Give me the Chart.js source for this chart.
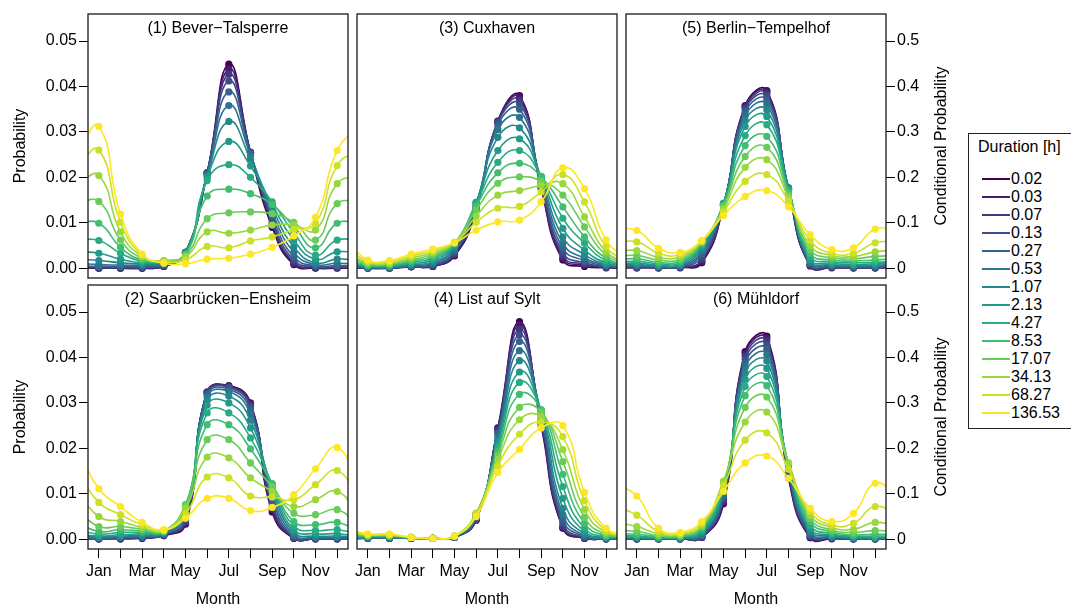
<!DOCTYPE html>
<html>
<head>
<meta charset="utf-8">
<script src="https://cdn.jsdelivr.net/npm/chart.js@4.4.1/dist/chart.umd.min.js"></script>
<style>
  html, body { margin: 0; padding: 0; background: #fff; }
  #wrap { position: relative; width: 1071px; height: 606px; overflow: hidden; font-family: "Liberation Sans", Arial, sans-serif; color: #000; }
  #wrap canvas { position: absolute; }
  #legend { position: absolute; left: 968px; top: 133px; width: 120px; height: 296px; border: 1px solid #222; box-sizing: border-box; }
  #legend .ttl { position: absolute; left: 9px; top: 3px; font-size: 16px; line-height: 19px; white-space: nowrap; }
  #legend .item { position: absolute; left: 13px; height: 18px; font-size: 16px; line-height: 18px; white-space: nowrap; }
  #legend .item span { display: inline-block; width: 28px; height: 2px; vertical-align: middle; margin-right: 1px; position: relative; top: -1px; }
</style>
</head>
<body>
<div id="wrap">
  <div id="legend"></div>
</div>
<script>
const months = ['Jan', 'Feb', 'Mar', 'Apr', 'May', 'Jun', 'Jul', 'Aug', 'Sep', 'Oct', 'Nov', 'Dec'];
const durations = ['0.02', '0.03', '0.07', '0.13', '0.27', '0.53', '1.07', '2.13', '4.27', '8.53', '17.07', '34.13', '68.27', '136.53'];
const probTicks = [0, 0.01, 0.02, 0.03, 0.04, 0.05];

// one row per duration (0.02 h ... 136.53 h), one column per month Jan..Dec
const beverTalsperre = [
  [0.0000, 0.0000, 0.0000, 0.0004, 0.0034, 0.0210, 0.0449, 0.0255, 0.0090, 0.0008, 0.0000, 0.0000],
  [0.0000, 0.0000, 0.0000, 0.0004, 0.0034, 0.0210, 0.0438, 0.0255, 0.0095, 0.0010, 0.0001, 0.0001],
  [0.0001, 0.0001, 0.0001, 0.0005, 0.0035, 0.0210, 0.0427, 0.0255, 0.0100, 0.0013, 0.0002, 0.0002],
  [0.0002, 0.0002, 0.0002, 0.0006, 0.0035, 0.0209, 0.0412, 0.0254, 0.0107, 0.0018, 0.0003, 0.0003],
  [0.0004, 0.0004, 0.0004, 0.0007, 0.0035, 0.0208, 0.0388, 0.0252, 0.0115, 0.0025, 0.0005, 0.0006],
  [0.0008, 0.0007, 0.0006, 0.0009, 0.0035, 0.0206, 0.0358, 0.0248, 0.0124, 0.0035, 0.0008, 0.0011],
  [0.0017, 0.0012, 0.0009, 0.0011, 0.0034, 0.0203, 0.0323, 0.0240, 0.0133, 0.0047, 0.0012, 0.0020],
  [0.0033, 0.0020, 0.0012, 0.0013, 0.0033, 0.0199, 0.0279, 0.0225, 0.0140, 0.0062, 0.0020, 0.0036],
  [0.0061, 0.0033, 0.0015, 0.0015, 0.0032, 0.0193, 0.0228, 0.0200, 0.0146, 0.0078, 0.0029, 0.0062],
  [0.0099, 0.0046, 0.0018, 0.0016, 0.0030, 0.0159, 0.0174, 0.0164, 0.0140, 0.0092, 0.0045, 0.0099],
  [0.0147, 0.0062, 0.0022, 0.0017, 0.0028, 0.0109, 0.0122, 0.0124, 0.0120, 0.0101, 0.0062, 0.0142],
  [0.0204, 0.0080, 0.0026, 0.0016, 0.0025, 0.0080, 0.0077, 0.0084, 0.0095, 0.0095, 0.0084, 0.0186],
  [0.0260, 0.0101, 0.0029, 0.0014, 0.0018, 0.0048, 0.0045, 0.0060, 0.0069, 0.0085, 0.0099, 0.0226],
  [0.0312, 0.0119, 0.0031, 0.0011, 0.0010, 0.0020, 0.0022, 0.0031, 0.0046, 0.0071, 0.0112, 0.0259]
];

const saarbrueckenEnsheim = [
  [0.0001, 0.0001, 0.0002, 0.0008, 0.0033, 0.0324, 0.0338, 0.0300, 0.0060, 0.0002, 0.0001, 0.0001],
  [0.0001, 0.0001, 0.0002, 0.0008, 0.0035, 0.0324, 0.0337, 0.0298, 0.0065, 0.0002, 0.0001, 0.0001],
  [0.0001, 0.0002, 0.0003, 0.0009, 0.0038, 0.0323, 0.0336, 0.0295, 0.0072, 0.0003, 0.0001, 0.0001],
  [0.0001, 0.0003, 0.0004, 0.0010, 0.0042, 0.0321, 0.0334, 0.0290, 0.0080, 0.0004, 0.0002, 0.0002],
  [0.0002, 0.0004, 0.0005, 0.0011, 0.0047, 0.0318, 0.0330, 0.0284, 0.0090, 0.0006, 0.0003, 0.0003],
  [0.0003, 0.0005, 0.0007, 0.0012, 0.0053, 0.0313, 0.0325, 0.0275, 0.0100, 0.0010, 0.0004, 0.0004],
  [0.0005, 0.0007, 0.0009, 0.0013, 0.0060, 0.0306, 0.0315, 0.0262, 0.0110, 0.0015, 0.0007, 0.0007],
  [0.0007, 0.0010, 0.0012, 0.0015, 0.0066, 0.0295, 0.0300, 0.0245, 0.0117, 0.0021, 0.0012, 0.0012],
  [0.0011, 0.0015, 0.0015, 0.0016, 0.0072, 0.0278, 0.0278, 0.0223, 0.0122, 0.0029, 0.0019, 0.0021],
  [0.0017, 0.0021, 0.0018, 0.0017, 0.0076, 0.0252, 0.0252, 0.0199, 0.0122, 0.0039, 0.0032, 0.0037],
  [0.0028, 0.0028, 0.0022, 0.0018, 0.0075, 0.0219, 0.0219, 0.0168, 0.0116, 0.0057, 0.0054, 0.0065],
  [0.0050, 0.0039, 0.0026, 0.0019, 0.0068, 0.0181, 0.0179, 0.0135, 0.0105, 0.0072, 0.0087, 0.0105],
  [0.0081, 0.0054, 0.0032, 0.0020, 0.0056, 0.0137, 0.0135, 0.0095, 0.0093, 0.0087, 0.0120, 0.0151],
  [0.0111, 0.0072, 0.0037, 0.0021, 0.0046, 0.0090, 0.0090, 0.0063, 0.0070, 0.0098, 0.0155, 0.0202]
];

const cuxhaven = [
  [0.0000, 0.0000, 0.0003, 0.0004, 0.0027, 0.0128, 0.0324, 0.0380, 0.0175, 0.0018, 0.0004, 0.0001],
  [0.0000, 0.0000, 0.0003, 0.0004, 0.0029, 0.0131, 0.0323, 0.0376, 0.0178, 0.0022, 0.0007, 0.0002],
  [0.0001, 0.0001, 0.0003, 0.0005, 0.0031, 0.0134, 0.0322, 0.0370, 0.0182, 0.0027, 0.0009, 0.0002],
  [0.0001, 0.0001, 0.0004, 0.0006, 0.0034, 0.0137, 0.0320, 0.0362, 0.0186, 0.0034, 0.0012, 0.0004],
  [0.0001, 0.0001, 0.0005, 0.0008, 0.0038, 0.0140, 0.0315, 0.0350, 0.0190, 0.0044, 0.0017, 0.0005],
  [0.0002, 0.0002, 0.0006, 0.0011, 0.0042, 0.0143, 0.0305, 0.0332, 0.0194, 0.0055, 0.0022, 0.0007],
  [0.0003, 0.0003, 0.0008, 0.0014, 0.0046, 0.0145, 0.0288, 0.0309, 0.0198, 0.0069, 0.0030, 0.0009],
  [0.0004, 0.0004, 0.0010, 0.0018, 0.0050, 0.0145, 0.0259, 0.0285, 0.0201, 0.0088, 0.0040, 0.0012],
  [0.0005, 0.0005, 0.0013, 0.0022, 0.0053, 0.0142, 0.0233, 0.0259, 0.0202, 0.0110, 0.0055, 0.0017],
  [0.0007, 0.0007, 0.0016, 0.0026, 0.0055, 0.0137, 0.0210, 0.0231, 0.0201, 0.0135, 0.0069, 0.0022],
  [0.0009, 0.0009, 0.0019, 0.0030, 0.0056, 0.0128, 0.0187, 0.0201, 0.0192, 0.0161, 0.0091, 0.0029],
  [0.0012, 0.0011, 0.0023, 0.0034, 0.0057, 0.0115, 0.0161, 0.0171, 0.0182, 0.0186, 0.0113, 0.0036],
  [0.0015, 0.0014, 0.0027, 0.0038, 0.0057, 0.0101, 0.0132, 0.0136, 0.0168, 0.0206, 0.0146, 0.0047],
  [0.0018, 0.0017, 0.0031, 0.0042, 0.0056, 0.0084, 0.0102, 0.0106, 0.0146, 0.0221, 0.0175, 0.0062]
];

const listAufSylt = [
  [0.0002, 0.0002, 0.0002, 0.0002, 0.0004, 0.0042, 0.0245, 0.0479, 0.0250, 0.0024, 0.0002, 0.0001],
  [0.0002, 0.0002, 0.0002, 0.0002, 0.0004, 0.0043, 0.0243, 0.0472, 0.0255, 0.0026, 0.0002, 0.0001],
  [0.0002, 0.0002, 0.0002, 0.0002, 0.0004, 0.0044, 0.0240, 0.0462, 0.0260, 0.0029, 0.0003, 0.0001],
  [0.0003, 0.0003, 0.0002, 0.0002, 0.0004, 0.0045, 0.0236, 0.0450, 0.0265, 0.0035, 0.0004, 0.0001],
  [0.0003, 0.0003, 0.0003, 0.0002, 0.0005, 0.0047, 0.0231, 0.0435, 0.0270, 0.0043, 0.0006, 0.0002],
  [0.0004, 0.0004, 0.0003, 0.0002, 0.0005, 0.0049, 0.0225, 0.0415, 0.0275, 0.0054, 0.0008, 0.0002],
  [0.0004, 0.0004, 0.0003, 0.0002, 0.0005, 0.0051, 0.0218, 0.0393, 0.0280, 0.0068, 0.0012, 0.0003],
  [0.0005, 0.0005, 0.0003, 0.0002, 0.0006, 0.0053, 0.0210, 0.0368, 0.0283, 0.0090, 0.0017, 0.0004],
  [0.0006, 0.0006, 0.0004, 0.0002, 0.0006, 0.0055, 0.0202, 0.0345, 0.0285, 0.0116, 0.0024, 0.0006],
  [0.0007, 0.0007, 0.0004, 0.0002, 0.0006, 0.0056, 0.0194, 0.0319, 0.0285, 0.0143, 0.0035, 0.0008],
  [0.0008, 0.0008, 0.0004, 0.0002, 0.0007, 0.0057, 0.0185, 0.0290, 0.0280, 0.0171, 0.0048, 0.0011],
  [0.0009, 0.0009, 0.0004, 0.0002, 0.0007, 0.0057, 0.0175, 0.0263, 0.0270, 0.0197, 0.0065, 0.0015],
  [0.0010, 0.0010, 0.0004, 0.0002, 0.0007, 0.0055, 0.0162, 0.0231, 0.0258, 0.0226, 0.0085, 0.0019],
  [0.0012, 0.0012, 0.0004, 0.0002, 0.0007, 0.0050, 0.0147, 0.0198, 0.0245, 0.0250, 0.0103, 0.0024]
];

const berlinTempelhof = [
  [0.0001, 0.0001, 0.0001, 0.0012, 0.0137, 0.0358, 0.0391, 0.0170, 0.0005, 0.0001, 0.0001, 0.0001],
  [0.0001, 0.0001, 0.0002, 0.0015, 0.0138, 0.0356, 0.0388, 0.0172, 0.0006, 0.0002, 0.0001, 0.0001],
  [0.0002, 0.0001, 0.0002, 0.0019, 0.0139, 0.0353, 0.0384, 0.0174, 0.0007, 0.0002, 0.0001, 0.0001],
  [0.0003, 0.0002, 0.0003, 0.0025, 0.0140, 0.0349, 0.0378, 0.0176, 0.0008, 0.0003, 0.0002, 0.0002],
  [0.0004, 0.0003, 0.0004, 0.0031, 0.0141, 0.0343, 0.0370, 0.0177, 0.0010, 0.0004, 0.0003, 0.0003],
  [0.0006, 0.0004, 0.0005, 0.0037, 0.0142, 0.0335, 0.0360, 0.0177, 0.0013, 0.0006, 0.0004, 0.0005],
  [0.0008, 0.0005, 0.0007, 0.0043, 0.0143, 0.0325, 0.0348, 0.0176, 0.0016, 0.0008, 0.0006, 0.0007],
  [0.0011, 0.0007, 0.0009, 0.0048, 0.0143, 0.0312, 0.0334, 0.0174, 0.0020, 0.0011, 0.0008, 0.0010],
  [0.0015, 0.0010, 0.0012, 0.0052, 0.0142, 0.0292, 0.0316, 0.0171, 0.0026, 0.0014, 0.0012, 0.0013],
  [0.0021, 0.0013, 0.0016, 0.0055, 0.0139, 0.0270, 0.0290, 0.0167, 0.0033, 0.0018, 0.0016, 0.0018],
  [0.0028, 0.0018, 0.0020, 0.0057, 0.0135, 0.0246, 0.0266, 0.0161, 0.0041, 0.0023, 0.0021, 0.0026],
  [0.0039, 0.0024, 0.0025, 0.0059, 0.0130, 0.0222, 0.0239, 0.0155, 0.0050, 0.0028, 0.0026, 0.0036],
  [0.0058, 0.0033, 0.0030, 0.0060, 0.0124, 0.0191, 0.0206, 0.0148, 0.0061, 0.0033, 0.0033, 0.0056],
  [0.0083, 0.0044, 0.0035, 0.0061, 0.0116, 0.0158, 0.0171, 0.0135, 0.0074, 0.0041, 0.0045, 0.0086]
];

const muehldorf = [
  [0.0001, 0.0001, 0.0001, 0.0004, 0.0078, 0.0413, 0.0447, 0.0135, 0.0003, 0.0001, 0.0001, 0.0001],
  [0.0001, 0.0001, 0.0001, 0.0004, 0.0082, 0.0409, 0.0442, 0.0138, 0.0004, 0.0002, 0.0001, 0.0001],
  [0.0001, 0.0001, 0.0001, 0.0005, 0.0086, 0.0403, 0.0436, 0.0142, 0.0006, 0.0002, 0.0001, 0.0001],
  [0.0001, 0.0001, 0.0001, 0.0006, 0.0090, 0.0396, 0.0428, 0.0146, 0.0008, 0.0003, 0.0001, 0.0001],
  [0.0002, 0.0001, 0.0002, 0.0008, 0.0095, 0.0388, 0.0418, 0.0150, 0.0011, 0.0004, 0.0002, 0.0001],
  [0.0002, 0.0002, 0.0002, 0.0010, 0.0100, 0.0378, 0.0406, 0.0154, 0.0015, 0.0005, 0.0002, 0.0002],
  [0.0003, 0.0002, 0.0003, 0.0013, 0.0105, 0.0366, 0.0392, 0.0158, 0.0019, 0.0007, 0.0003, 0.0003],
  [0.0005, 0.0003, 0.0004, 0.0017, 0.0110, 0.0352, 0.0376, 0.0162, 0.0024, 0.0009, 0.0005, 0.0004],
  [0.0007, 0.0004, 0.0005, 0.0020, 0.0115, 0.0336, 0.0358, 0.0165, 0.0031, 0.0012, 0.0007, 0.0007],
  [0.0011, 0.0006, 0.0006, 0.0024, 0.0120, 0.0316, 0.0338, 0.0167, 0.0039, 0.0016, 0.0010, 0.0011],
  [0.0017, 0.0008, 0.0008, 0.0028, 0.0126, 0.0290, 0.0313, 0.0168, 0.0046, 0.0020, 0.0015, 0.0019],
  [0.0028, 0.0012, 0.0010, 0.0031, 0.0128, 0.0258, 0.0280, 0.0167, 0.0053, 0.0026, 0.0022, 0.0037],
  [0.0053, 0.0017, 0.0012, 0.0035, 0.0118, 0.0218, 0.0234, 0.0154, 0.0061, 0.0031, 0.0035, 0.0072],
  [0.0095, 0.0024, 0.0015, 0.0039, 0.0105, 0.0168, 0.0183, 0.0134, 0.0068, 0.0039, 0.0057, 0.0123]
];

// viridis, 14 steps
const colors = ['#440154', '#471C6D', '#44357F', '#3D4C89', '#34618D', '#2C748E', '#24878D',
                '#219A89', '#27AC81', '#41BD71', '#69CC5A', '#99D83D', '#CCE126', '#FDE725'];

const panels = [
  { title: '(1) Bever\u2212Talsperre', data: beverTalsperre, col: 0, row: 0 },
  { title: '(2) Saarbrücken\u2212Ensheim', data: saarbrueckenEnsheim, col: 0, row: 1 },
  { title: '(3) Cuxhaven', data: cuxhaven, col: 1, row: 0 },
  { title: '(4) List auf Sylt', data: listAufSylt, col: 1, row: 1 },
  { title: '(5) Berlin\u2212Tempelhof', data: berlinTempelhof, col: 2, row: 0 },
  { title: '(6) Mühldorf', data: muehldorf, col: 2, row: 1 }
];

const FONT = '"Liberation Sans", Arial, sans-serif';
Chart.defaults.font.family = FONT;
Chart.defaults.font.size = 16;
Chart.defaults.color = '#000';

// plot box edges
const boxL = [88, 357, 626], boxR = [348, 617, 886];
const boxT = [14, 285], boxB = [278, 549];
const EXTRA = 20;
const PAGE_BOTTOM = 609;   // bottom canvases run a little past the window

const panelDecor = {
  id: 'panelDecor',
  afterDatasetsDraw(chart, args, opts) {
    const { ctx, chartArea: a } = chart;
    ctx.save();
    ctx.strokeStyle = '#1a1a1a';
    ctx.lineWidth = 1.3;
    ctx.strokeRect(a.left, a.top, a.right - a.left, a.bottom - a.top);
    ctx.fillStyle = '#000';
    ctx.font = '16px ' + FONT;
    ctx.textAlign = 'center';
    ctx.textBaseline = 'middle';
    ctx.fillText(opts.title, (a.left + a.right) / 2, a.top + 14.5);
    if (opts.sideTitle) {
      ctx.translate(opts.sideX, (a.top + a.bottom) / 2);
      ctx.rotate(-Math.PI / 2);
      ctx.fillText(opts.sideTitle, 0, 0);
    }
    ctx.restore();
  }
};

// periodic series: Dec copied before Jan and Jan after Dec so the curve runs to the box edges
function toPoints(row) {
  const pts = [{ x: 0, y: row[11] }];
  row.forEach((v, i) => pts.push({ x: i + 1, y: v }));
  pts.push({ x: 13, y: row[0] });
  return pts;
}

const wrap = document.getElementById('wrap');

panels.forEach(p => {
  const c = p.col, r = p.row;
  const showX = r === 1, showY = c !== 1;
  const left = c === 0 ? 0 : boxL[c] - EXTRA;
  const right = c === 2 ? 960 : boxR[c] + EXTRA;
  const top = r === 0 ? 0 : boxT[r] - EXTRA;
  const bottom = r === 1 ? PAGE_BOTTOM : boxB[r] + EXTRA;

  const canvas = document.createElement('canvas');
  canvas.width = right - left;
  canvas.height = bottom - top;
  canvas.style.left = left + 'px';
  canvas.style.top = top + 'px';
  canvas.style.width = (right - left) + 'px';
  canvas.style.height = (bottom - top) + 'px';
  wrap.insertBefore(canvas, wrap.firstChild);

  const datasets = p.data.map((row, i) => ({
    label: durations[i],
    data: toPoints(row),
    borderColor: colors[i],
    backgroundColor: colors[i],
    pointBackgroundColor: colors[i],
    pointBorderWidth: 0,
    pointRadius: 3.6,
    borderWidth: 1.6,
    tension: 0.5,
    clip: 0,
    order: 13 - i
  }));

  new Chart(canvas, {
    type: 'line',
    data: { datasets },
    options: {
      responsive: false,
      animation: false,
      devicePixelRatio: 1,
      events: [],
      layout: {
        padding: {
          left: c === 0 ? 0 : EXTRA,
          right: c === 2 ? 0 : EXTRA,
          top: r === 0 ? boxT[0] : EXTRA,
          bottom: r === 1 ? 0 : EXTRA
        }
      },
      elements: { line: { capBezierPoints: false } },
      scales: {
        x: {
          type: 'linear',
          min: 0.5,
          max: 12.5,
          display: showX,
          afterBuildTicks: s => { s.ticks = months.map((m, i) => ({ value: i + 1 })); },
          afterFit: s => { if (showX) s.height = PAGE_BOTTOM - boxB[1]; },
          grid: { drawOnChartArea: false, tickLength: 9, color: '#000', lineWidth: 1 },
          border: { display: false },
          ticks: {
            autoSkip: false,
            maxRotation: 0,
            padding: 4,
            callback: v => (v % 2 === 1 ? months[v - 1] : '')
          },
          title: { display: true, text: 'Month', font: { size: 16, lineHeight: 1 }, padding: { top: 0, bottom: 1 } }
        },
        y: {
          type: 'linear',
          min: -0.00215,
          max: 0.05595,
          display: showY,
          position: c === 0 ? 'left' : 'right',
          afterBuildTicks: s => { s.ticks = probTicks.map(v => ({ value: v })); },
          afterFit: s => { if (showY) s.width = c === 0 ? 88 : 74; },
          grid: { drawOnChartArea: false, tickLength: 9, color: '#000', lineWidth: 1 },
          border: { display: false },
          ticks: {
            padding: 2,
            callback: v => (c === 0 ? v.toFixed(2) : String(Math.round(v * 100) / 10))
          },
          title: { display: c === 0, text: 'Probability', padding: { top: 11, bottom: 0 } }
        }
      },
      plugins: {
        legend: { display: false },
        tooltip: { enabled: false },
        panelDecor: {
          title: p.title,
          sideTitle: c === 2 ? 'Conditional Probability' : null,
          sideX: 942 - left
        }
      }
    },
    plugins: [panelDecor]
  });
});

// legend box
const legend = document.getElementById('legend');
const ttl = document.createElement('div');
ttl.className = 'ttl';
ttl.textContent = 'Duration [h]';
legend.appendChild(ttl);
durations.forEach((d, i) => {
  const it = document.createElement('div');
  it.className = 'item';
  it.style.top = (36 + 18 * i) + 'px';
  it.innerHTML = '<span style="background:' + colors[i] + '"></span>' + d;
  legend.appendChild(it);
});
</script>
</body>
</html>
